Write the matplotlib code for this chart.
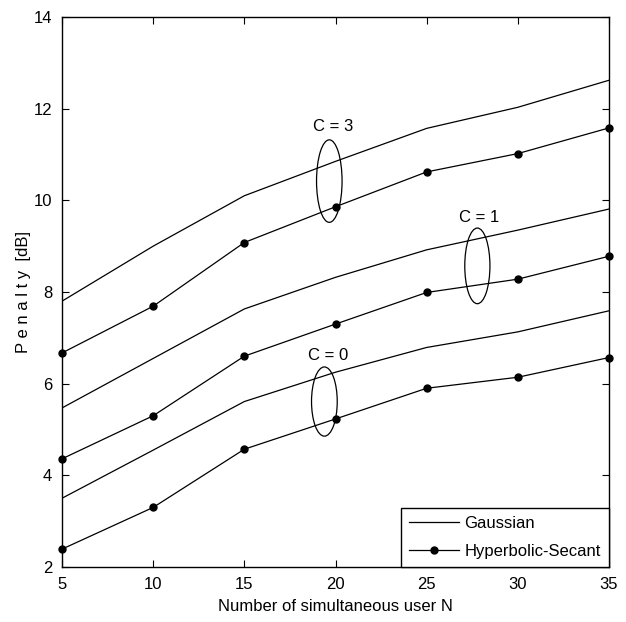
import matplotlib
matplotlib.use("Agg")
import matplotlib.pyplot as plt
from matplotlib.patches import Ellipse

plt.rcParams['font.family'] = ['Liberation Sans', 'DejaVu Sans']

users = [5, 10, 15, 20, 25, 30, 35]
gauss_c3 = [7.80, 9.00, 10.10, 10.85, 11.57, 12.03, 12.62]
sech_c3 = [6.67, 7.69, 9.08, 9.86, 10.62, 11.02, 11.58]
gauss_c1 = [5.47, 6.55, 7.63, 8.32, 8.92, 9.35, 9.81]
sech_c1 = [4.36, 5.30, 6.60, 7.30, 7.99, 8.28, 8.78]
gauss_c0 = [3.50, 4.55, 5.61, 6.25, 6.79, 7.13, 7.59]
sech_c0 = [2.39, 3.30, 4.57, 5.23, 5.90, 6.14, 6.57]

x_ticks = [5, 10, 15, 20, 25, 30, 35]
y_ticks = [2, 4, 6, 8, 10, 12, 14]

# annotation labels: (text, label x, label y, ellipse centre x, centre y, width, height)
groups = [
    ("C = 3", 19.85, 11.62, 19.66, 10.42, 1.40, 1.80),
    ("C = 1", 27.85, 9.63, 27.78, 8.57, 1.38, 1.65),
    ("C = 0", 19.6, 6.61, 19.39, 5.61, 1.41, 1.51),
]

FS = 12

fig = plt.figure(figsize=(6.26, 6.22), dpi=100)
ax = fig.add_axes([62/626, 55/622, 547/626, 550/622])

lw = 0.9
for g in (gauss_c3, gauss_c1, gauss_c0):
    ax.plot(users, g, color='black', lw=lw)
for s in (sech_c3, sech_c1, sech_c0):
    ax.plot(users, s, color='black', lw=lw, marker='o', markersize=5, clip_on=False, zorder=5)

for txt, tx, ty, ex, ey, ew, eh in groups:
    ax.text(tx, ty, txt, ha='center', va='center', fontsize=FS)
    ax.add_patch(Ellipse((ex, ey), ew, eh, fill=False, edgecolor='black', lw=0.9))

h1, = ax.plot([], [], color='black', lw=lw, label='Gaussian')
h2, = ax.plot([], [], color='black', lw=lw, marker='o', markersize=5, label='Hyperbolic-Secant')
leg = ax.legend(handles=[h1, h2], loc='lower right', fontsize=FS, frameon=True, fancybox=False,
                borderaxespad=0, handlelength=3.0, handletextpad=0.3, labelspacing=0.75,
                borderpad=0.5, numpoints=1)
leg.get_frame().set_edgecolor('black')
leg.get_frame().set_linewidth(1.0)
leg.get_frame().set_alpha(1)

ax.set_xlim(5, 35)
ax.set_ylim(2, 14)
ax.set_xticks(x_ticks)
ax.set_yticks(y_ticks)
ax.tick_params(direction='in', top=True, right=True, length=5, width=0.8, labelsize=FS, pad=7)
for sp in ax.spines.values():
    sp.set_linewidth(1.0)

ax.set_xlabel('Number of simultaneous user N', fontsize=FS, labelpad=5)
ax.set_ylabel('P e n a l t y  [dB]', fontsize=FS, labelpad=2)

fig.savefig('out.png', dpi=100)
